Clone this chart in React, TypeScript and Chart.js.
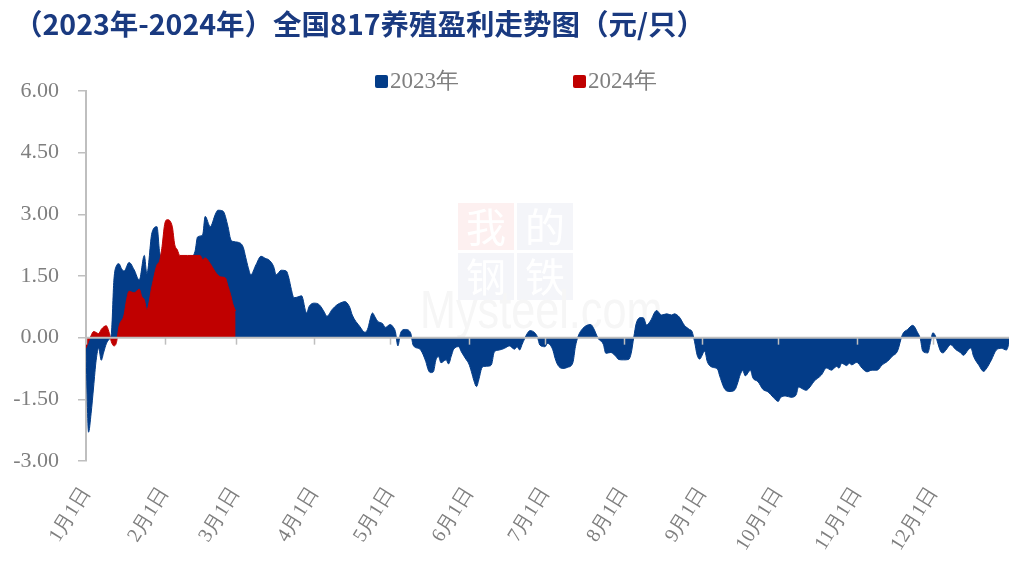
import React, { useEffect, useRef } from "react";
import { Chart, registerables } from "chart.js";

Chart.register(...registerables);

const TITLE = "（2023年-2024年）全国817养殖盈利走势图（元/只）";
const SERIES_NAMES = ["2023年", "2024年"];
const SERIES_COLORS = ["#033C88", "#C00000"];

const MONTH_START_DAYS = [0, 31, 59, 90, 120, 151, 181, 212, 243, 273, 304, 334];
const MONTH_LABELS = ["1月1日", "2月1日", "3月1日", "4月1日", "5月1日", "6月1日", "7月1日", "8月1日", "9月1日", "10月1日", "11月1日", "12月1日"];

const Y_MIN = -3;
const Y_MAX = 6;
const Y_STEP = 1.5;

// 2023: day of year -> profit (元/只)
const DAYS_2023 = [
  0, 1, 2, 3, 4, 5, 6, 7, 8, 9, 10, 11, 12, 13, 14, 15, 17, 19, 21, 23, 24, 26, 28, 29, 30, 33, 37, 41, 43, 44,
  46, 47, 49, 51, 52, 54, 56, 57, 58, 60, 62, 63, 64, 65, 67, 69, 71, 72, 74, 75, 77, 79, 80, 81, 82, 84, 85, 87, 88, 90,
  92, 94, 95, 97, 99, 101, 102, 104, 105, 108, 110, 111, 113, 114, 115, 117, 118, 120, 121, 122, 123, 124, 125, 126, 128, 129, 131, 132, 134, 135,
  136, 137, 138, 139, 140, 142, 143, 144, 145, 147, 148, 150, 151, 152, 153, 154, 155, 156, 157, 159, 160, 161, 163, 165, 167, 169, 170, 171, 172, 174,
  175, 177, 178, 179, 181, 182, 184, 185, 186, 188, 190, 192, 193, 194, 196, 199, 200, 202, 204, 205, 207, 209, 210, 212, 214, 215, 216, 217, 219, 220,
  221, 223, 224, 225, 227, 229, 231, 232, 234, 236, 238, 239, 240, 241, 242, 244, 245, 247, 249, 250, 252, 254, 256, 257, 258, 259, 260, 262, 263, 265,
  267, 269, 271, 273, 274, 276, 278, 280, 281, 283, 284, 286, 287, 290, 292, 294, 296, 297, 298, 300, 301, 302, 304, 306, 308, 310, 312, 314, 316, 318,
  320, 322, 324, 326, 328, 329, 330, 332, 333, 334, 335, 337, 338, 339, 341, 343, 345, 346, 348, 349, 350, 352, 354, 355, 357, 359, 361, 363, 364,
];
const PROFIT_2023 = [
  -0.3, -2.3, -1.85, -1.2, -0.55, -0.25, -0.55, -0.35, -0.15, -0.05, 0.1, 1.4, 1.75, 1.8, 1.68, 1.62, 1.83, 1.65, 1.4, 2.0, 1.55, 2.55, 2.7, 2.1, 1.9, 1.9, 1.95, 1.95, 2.1, 2.45,
  2.5, 2.95, 2.7, 3.0, 3.1, 3.08, 2.7, 2.4, 2.34, 2.32, 2.2, 1.95, 1.7, 1.53, 1.77, 1.98, 1.92, 1.9, 1.73, 1.53, 1.64, 1.62, 1.45, 1.17, 0.97, 1.0, 1.02, 0.6, 0.76, 0.84,
  0.8, 0.62, 0.52, 0.68, 0.8, 0.86, 0.88, 0.74, 0.55, 0.27, 0.13, 0.2, 0.6, 0.5, 0.4, 0.34, 0.25, 0.32, 0.27, 0.15, -0.2, 0.1, 0.19, 0.2, 0.12, -0.18, -0.26, -0.3, -0.58, -0.79,
  -0.85, -0.83, -0.54, -0.46, -0.61, -0.54, -0.64, -0.46, -0.28, -0.22, -0.34, -0.54, -0.64, -0.83, -1.05, -1.19, -1.0, -0.75, -0.7, -0.69, -0.64, -0.35, -0.3, -0.26, -0.2, -0.28, -0.22, -0.3, -0.16, 0.1,
  0.17, 0.12, 0.02, -0.18, -0.22, -0.14, -0.28, -0.5, -0.66, -0.75, -0.72, -0.61, -0.22, 0.02, 0.23, 0.32, 0.25, -0.02, -0.16, -0.38, -0.36, -0.46, -0.53, -0.54, -0.53, -0.38, 0.0, 0.35, 0.49, 0.47,
  0.31, 0.45, 0.59, 0.66, 0.55, 0.58, 0.55, 0.58, 0.5, 0.3, 0.2, 0.15, -0.1, -0.42, -0.52, -0.33, -0.58, -0.72, -0.76, -0.95, -1.26, -1.31, -1.26, -1.1, -0.9, -0.8, -0.93, -0.79, -0.98, -1.07,
  -1.26, -1.32, -1.45, -1.55, -1.45, -1.42, -1.45, -1.4, -1.2, -1.26, -1.28, -1.16, -1.07, -0.91, -0.74, -0.79, -0.7, -0.74, -0.62, -0.68, -0.62, -0.66, -0.6, -0.74, -0.83, -0.79, -0.79, -0.66, -0.58, -0.45,
  -0.33, 0.08, 0.2, 0.3, 0.12, -0.02, -0.33, -0.37, -0.12, 0.12, 0.04, -0.33, -0.37, -0.31, -0.17, -0.29, -0.37, -0.43, -0.29, -0.25, -0.45, -0.66, -0.82, -0.76, -0.55, -0.3, -0.26, -0.3, -0.15,
];

// 2024: day of year -> profit (元/只)
const DAYS_2024 = [0, 1, 2, 3, 5, 6, 8, 9, 10, 11, 12, 13, 15, 16, 17, 19, 21, 22, 23, 24, 26, 28, 29, 30, 31, 32, 34, 35, 36, 37, 40, 43, 45, 46, 47, 49, 51, 53, 55, 56, 57, 58, 59];
const PROFIT_2024 = [-0.25, -0.1, 0.05, 0.15, 0.1, 0.2, 0.29, 0.15, -0.1, -0.2, -0.12, 0.27, 0.55, 0.92, 1.13, 1.09, 1.18, 1.0, 0.92, 0.68, 1.25, 1.77, 1.86, 2.22, 2.75, 2.87, 2.71, 2.26, 2.14, 2.0, 2.0, 2.0, 2.0, 1.9, 1.94, 1.8, 1.6, 1.48, 1.45, 1.25, 1.05, 0.8, 0.65];

const SERIF = "'Liberation Serif', 'Times New Roman', serif";
const GRAY = "#7F7F7F";
const AXIS_GRAY = "#BFBFBF";

function roundRect(ctx: CanvasRenderingContext2D, x: number, y: number, w: number, h: number, r: number) {
  ctx.beginPath();
  ctx.moveTo(x + r, y);
  ctx.lineTo(x + w - r, y);
  ctx.quadraticCurveTo(x + w, y, x + w, y + r);
  ctx.lineTo(x + w, y + h - r);
  ctx.quadraticCurveTo(x + w, y + h, x + w - r, y + h);
  ctx.lineTo(x + r, y + h);
  ctx.quadraticCurveTo(x, y + h, x, y + h - r);
  ctx.lineTo(x, y + r);
  ctx.quadraticCurveTo(x, y, x + r, y);
  ctx.closePath();
}

const decorPlugin = {
  id: "decor",
  beforeDatasetsDraw(chart: any) {
    const ctx: CanvasRenderingContext2D = chart.ctx;
    ctx.save();
    // watermark
    const boxes = [
      { x: 458, y: 203, c: "#FDF0F0", t: "我" },
      { x: 517, y: 203, c: "#F4F5F9", t: "的" },
      { x: 458, y: 253, c: "#F4F5F9", t: "钢" },
      { x: 517, y: 253, c: "#F4F5F9", t: "铁" },
    ];
    boxes.forEach((b) => {
      ctx.fillStyle = b.c;
      ctx.fillRect(b.x, b.y, 56, 47);
      ctx.fillStyle = "#FFFFFF";
      ctx.font = "40px 'Noto Sans CJK SC'";
      ctx.textAlign = "center";
      ctx.textBaseline = "middle";
      ctx.fillText(b.t, b.x + 28, b.y + 24);
    });
    ctx.translate(420, 328);
    ctx.scale(0.8, 1);
    ctx.fillStyle = "#F6F6F6";
    ctx.font = "54px 'Liberation Sans'";
    ctx.textAlign = "left";
    ctx.textBaseline = "alphabetic";
    ctx.fillText("Mysteel.com", 0, 0);
    ctx.restore();
  },
  afterDatasetsDraw(chart: any) {
    const ctx: CanvasRenderingContext2D = chart.ctx;
    const xs = chart.scales.x;
    const ys = chart.scales.y;
    const y0 = ys.getPixelForValue(0);
    const { left, right } = chart.chartArea;
    ctx.save();
    ctx.strokeStyle = AXIS_GRAY;
    ctx.lineWidth = 2;
    ctx.beginPath();
    ctx.moveTo(left, y0);
    ctx.lineTo(right, y0);
    ctx.stroke();
    ctx.lineWidth = 1.5;
    MONTH_START_DAYS.forEach((d) => {
      const px = Math.round(xs.getPixelForValue(d)) + 0.5;
      ctx.beginPath();
      ctx.moveTo(px, y0);
      ctx.lineTo(px, y0 + 7);
      ctx.stroke();
    });
    ctx.restore();
  },
  afterDraw(chart: any) {
    const ctx: CanvasRenderingContext2D = chart.ctx;
    ctx.save();
    // title
    ctx.fillStyle = "#1A3A80";
    ctx.font = "bold 28.5px 'Noto Sans CJK SC'";
    ctx.textAlign = "left";
    ctx.textBaseline = "middle";
    ctx.fillText(TITLE, 14, 24);
    // legend
    const items = [
      { x: 375, name: SERIES_NAMES[0], color: SERIES_COLORS[0] },
      { x: 573, name: SERIES_NAMES[1], color: SERIES_COLORS[1] },
    ];
    items.forEach((it) => {
      ctx.fillStyle = it.color;
      roundRect(ctx, it.x, 75, 13, 13, 2);
      ctx.fill();
      ctx.fillStyle = GRAY;
      ctx.font = `23px ${SERIF}`;
      ctx.textBaseline = "middle";
      ctx.fillText(it.name, it.x + 15, 82);
    });
    ctx.restore();
  },
};

export default function App() {
  const canvasRef = useRef<HTMLCanvasElement | null>(null);

  useEffect(() => {
    const canvas = canvasRef.current;
    if (!canvas) return;
    const data2023 = DAYS_2023.map((d, i) => ({ x: d, y: PROFIT_2023[i] }));
    const data2024 = DAYS_2024.map((d, i) => ({ x: d, y: PROFIT_2024[i] }));
    const chart = new Chart(canvas, {
      type: "line",
      data: {
        datasets: [
          {
            label: SERIES_NAMES[1],
            data: data2024,
            borderColor: SERIES_COLORS[1],
            backgroundColor: SERIES_COLORS[1],
            borderWidth: 1,
            pointRadius: 0,
            fill: "origin",
            cubicInterpolationMode: "monotone",
          },
          {
            label: SERIES_NAMES[0],
            data: data2023,
            borderColor: SERIES_COLORS[0],
            backgroundColor: SERIES_COLORS[0],
            borderWidth: 1,
            pointRadius: 0,
            fill: "origin",
            cubicInterpolationMode: "monotone",
          },
        ],
      },
      options: {
        animation: false,
        responsive: false,
        devicePixelRatio: 1,
        layout: { padding: { top: 91, right: 3, bottom: 0, left: 0 } },
        plugins: {
          legend: { display: false },
          title: { display: false },
          tooltip: { enabled: false },
        },
        scales: {
          x: {
            type: "linear",
            min: 0,
            max: 364,
            grid: { display: false, drawTicks: false },
            border: { display: false },
            afterBuildTicks: (scale: any) => {
              scale.ticks = MONTH_START_DAYS.map((v) => ({ value: v }));
            },
            afterFit: (scale: any) => {
              scale.height = 100;
            },
            ticks: {
              autoSkip: false,
              minRotation: 58,
              maxRotation: 58,
              padding: 22,
              color: GRAY,
              font: { family: SERIF, size: 20 },
              callback: (value: any) => {
                const i = MONTH_START_DAYS.indexOf(Number(value));
                return i >= 0 ? MONTH_LABELS[i] : "";
              },
            },
          },
          y: {
            min: Y_MIN,
            max: Y_MAX,
            grid: { drawOnChartArea: false, drawTicks: true, tickLength: 8, color: AXIS_GRAY, lineWidth: 1.5 },
            border: { display: true, color: AXIS_GRAY, width: 2 },
            afterFit: (scale: any) => {
              scale.width = 86;
            },
            ticks: {
              stepSize: Y_STEP,
              padding: 19,
              color: GRAY,
              font: { family: SERIF, size: 22 },
              callback: (value: any) => Number(value).toFixed(2),
            },
          },
        },
      },
      plugins: [decorPlugin],
    });
    return () => chart.destroy();
  }, []);

  return (
    <div style={{ position: "fixed", left: 0, top: 0, width: 1012, height: 561, background: "#FFFFFF" }}>
      <canvas ref={canvasRef} width={1012} height={561} style={{ width: 1012, height: 561, display: "block" }} />
    </div>
  );
}
